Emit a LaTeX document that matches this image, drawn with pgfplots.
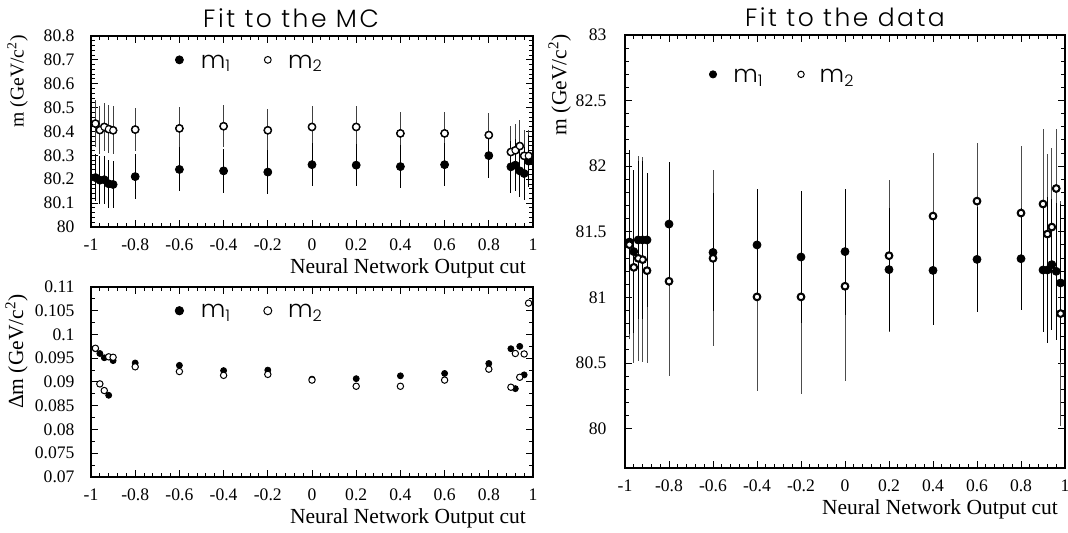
\documentclass[border=0pt]{standalone}
\usepackage{fontspec}
\setmainfont{Liberation Serif}
\IfFontExistsTF{Poppins Light}{\newfontfamily\higz{Poppins Light}[LetterSpace=10]}{\newfontfamily\higz{Poppins}[LetterSpace=10]}
\usepackage{pgfplots}
\usepackage{pgfplotstable}
\pgfplotsset{compat=1.18}

\pgfplotstableread{
x     m1     e1    m2     e2
-0.98 80.207 0.100 80.433 0.100
-0.96 80.196 0.100 80.406 0.100
-0.94 80.198 0.100 80.419 0.100
-0.92 80.181 0.100 80.410 0.100
-0.90 80.178 0.100 80.405 0.100
-0.80 80.211 0.094 80.408 0.089
-0.60 80.241 0.092 80.413 0.091
-0.40 80.235 0.093 80.422 0.088
-0.20 80.230 0.091 80.405 0.088
0.00  80.261 0.089 80.419 0.087
0.20  80.259 0.089 80.419 0.087
0.40  80.253 0.090 80.392 0.088
0.60  80.261 0.090 80.392 0.088
0.80  80.299 0.093 80.385 0.091
0.90  80.252 0.110 80.314 0.110
0.92  80.259 0.110 80.321 0.110
0.94  80.235 0.110 80.339 0.110
0.96  80.224 0.110 80.298 0.110
0.98  80.276 0.110 80.298 0.110
}\mcdata

\pgfplotstableread{
x     d1     d2
-0.98 0.0970 0.0971
-0.96 0.0960 0.0896
-0.94 0.0951 0.0882
-0.92 0.0872 0.0953
-0.90 0.0945 0.0952
-0.80 0.0940 0.0932
-0.60 0.0935 0.0922
-0.40 0.0924 0.0914
-0.20 0.0925 0.0916
0.00  0.0906 0.0904
0.20  0.0907 0.0891
0.40  0.0913 0.0891
0.60  0.0918 0.0904
0.80  0.0939 0.0927
0.90  0.0970 0.0889
0.92  0.0886 0.0960
0.94  0.0975 0.0910
0.96  0.0915 0.0959
0.98  nan    0.1066
}\dmdata

\pgfplotstableread{
x     m1     e1    m2     e2
-0.98 81.422 0.70 81.402 0.72
-0.96 81.349 0.62 81.229 0.73
-0.94 81.438 0.60 81.298 0.78
-0.92 81.438 0.60 81.288 0.78
-0.90 81.438 0.51 81.204 0.70
-0.80 81.559 0.47 81.123 0.72
-0.60 81.343 0.45 81.298 0.67
-0.40 81.400 0.43 81.004 0.72
-0.20 81.308 0.50 81.004 0.74
0.00  81.349 0.48 81.085 0.72
0.20  81.212 0.47 81.318 0.58
0.40  81.206 0.42 81.620 0.48
0.60  81.290 0.40 81.734 0.44
0.80  81.295 0.39 81.643 0.51
0.90  81.209 0.47 81.712 0.57
0.92  81.209 0.56 81.483 0.61
0.94  81.250 0.50 81.536 0.60
0.96  81.199 0.52 81.830 0.45
0.98  81.110 0.60 80.877 0.86
}\datadata

\pgfplotsset{
  hep/.style={
    scale only axis,
    clip=false,
    axis line style={line width=0.6pt},
    tick align=inside,
    tick style={black, line width=0.5pt},
    major tick length=3.5pt,
    minor tick length=1.8pt,
    xmin=-1, xmax=1,
    xtick={-1,-0.8,-0.6,-0.4,-0.2,0,0.2,0.4,0.6,0.8,1},
    xticklabels={-1,-0.8,-0.6,-0.4,-0.2,0,0.2,0.4,0.6,0.8,1},
    minor x tick num=4,
    ticklabel style={font=\fontsize{8.8}{10}\selectfont},
    xticklabel style={yshift=-2.5pt},
    label style={font=\fontsize{10.75}{12}\selectfont},
    xlabel={Neural Network Output cut},
    xlabel style={at={(axis description cs:1,0)}, anchor=base east, yshift=-23.5pt},
  },
  ebar/.style={error bars/.cd, y dir=both, y explicit, error mark=none,
    error bar style={line width=0.5pt, #1}},
}
\tikzset{
  leg/.style={anchor=base west, font=\higz\fontsize{12}{14}\selectfont},
  ttl/.style={anchor=base, font=\higz\fontsize{12.5}{15}\selectfont},
}

\begin{document}
\begin{tikzpicture}
\useasboundingbox (0,0) rectangle (534pt,266.5pt);

% ---------------- top left: fit to MC ----------------
\begin{axis}[hep,
  at={(45.5pt,153pt)}, anchor=south west,
  width=221pt, height=95.5pt,
  ymin=80, ymax=80.8,
  ytick={80,80.1,80.2,80.3,80.4,80.5,80.6,80.7,80.8},
  yticklabels={80,80.1,80.2,80.3,80.4,80.5,80.6,80.7,80.8},
  minor y tick num=4,
  yticklabel style={xshift=-4.7pt},
  ylabel={m (GeV/c\textsuperscript{2})},
  ylabel style={at={(axis description cs:-0.127,1.042)}, anchor=south east, font=\fontsize{9.8}{11}\selectfont},
]
\addplot[only marks, mark=none, ebar={black!75}] table[x=x, y=m2, y error=e2]{\mcdata};
\addplot[only marks, mark=none, ebar={black}] table[x=x, y=m1, y error=e1]{\mcdata};
\addplot[only marks, mark=*, mark size=1.5pt, black] table[x=x, y=m1]{\mcdata};
\addplot[only marks, mark=*, mark size=1.7pt, mark options={draw=black, fill=white, line width=0.5pt}] table[x=x, y=m2]{\mcdata};
\addplot[only marks, mark=*, mark size=2pt, black] coordinates {(-0.6,80.70)};
\addplot[only marks, mark=*, mark size=1.7pt, mark options={draw=black, fill=white, line width=0.5pt}] coordinates {(-0.2,80.70)};
\node[leg] at (axis cs:-0.535,80.665) {m\textsubscript{1}};
\node[leg] at (axis cs:-0.14,80.665) {m\textsubscript{2}};
\node[ttl] at (axis description cs:0.4525,1.047) {Fit to the MC};
\end{axis}

% ---------------- bottom left: delta m ----------------
\begin{axis}[hep,
  at={(45.5pt,28pt)}, anchor=south west,
  width=221pt, height=95pt,
  ymin=0.07, ymax=0.11,
  ytick={0.07,0.075,0.08,0.085,0.09,0.095,0.1,0.105,0.11},
  yticklabels={0.07,0.075,0.08,0.085,0.09,0.095,0.1,0.105,0.11},
  minor y tick num=1,
  yticklabel style={xshift=-4.7pt},
  ylabel={Δm (GeV/c\textsuperscript{2})},
  ylabel style={at={(axis description cs:-0.127,1.0)}, anchor=south east},
]
\addplot[only marks, mark=*, mark size=1.5pt, black] table[x=x, y=d1]{\dmdata};
\addplot[only marks, mark=*, mark size=1.6pt, mark options={draw=black, fill=white, line width=0.5pt}] table[x=x, y=d2]{\dmdata};
\addplot[only marks, mark=*, mark size=2.1pt, black] coordinates {(-0.6,0.105)};
\addplot[only marks, mark=*, mark size=2pt, mark options={draw=black, fill=white, line width=0.5pt}] coordinates {(-0.2,0.105)};
\node[leg] at (axis cs:-0.535,0.1035) {m\textsubscript{1}};
\node[leg] at (axis cs:-0.14,0.1035) {m\textsubscript{2}};
\end{axis}

% ---------------- right: fit to data ----------------
\begin{axis}[hep,
  at={(312.5pt,32.5pt)}, anchor=south west,
  width=220pt, height=216.5pt,
  ymin=79.7, ymax=83,
  ytick={80,80.5,81,81.5,82,82.5,83},
  yticklabels={80,80.5,81,81.5,82,82.5,83},
  minor y tick num=4,
  yticklabel style={xshift=-5.7pt},
  ylabel={m (GeV/c\textsuperscript{2})},
  ylabel style={at={(axis description cs:-0.107,1.0185)}, anchor=south east},
]
\addplot[only marks, mark=none, ebar={black!70}] table[x=x, y=m2, y error=e2]{\datadata};
\addplot[only marks, mark=none, ebar={black}] table[x=x, y=m1, y error=e1]{\datadata};
\addplot[only marks, mark=*, mark size=1.35pt, black] table[x=x, y=m1]{\datadata};
\addplot[only marks, mark=*, mark size=1.4pt, mark options={draw=black, fill=white, line width=0.5pt}] table[x=x, y=m2]{\datadata};
\addplot[only marks, mark=*, mark size=1.8pt, black] coordinates {(-0.6,82.70)};
\addplot[only marks, mark=*, mark size=1.6pt, mark options={draw=black, fill=white, line width=0.5pt}] coordinates {(-0.2,82.70)};
\node[leg] at (axis cs:-0.54,82.635) {m\textsubscript{1}};
\node[leg] at (axis cs:-0.147,82.635) {m\textsubscript{2}};
\node[ttl] at (axis description cs:0.5,1.0185) {Fit to the data};
\end{axis}
\end{tikzpicture}
\end{document}
